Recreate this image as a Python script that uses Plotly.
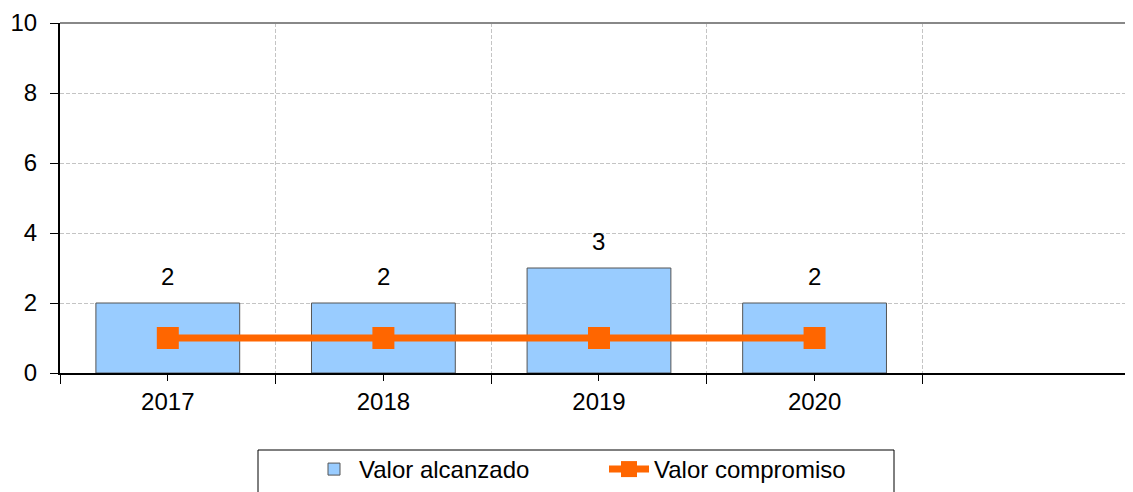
import plotly.graph_objects as go

years = ["2017", "2018", "2019", "2020"]
alcanzado = [2, 2, 3, 2]
compromiso = [1, 1, 1, 1]
n_slots = 5  # one empty category slot at the right

xpos = list(range(len(years)))

FONT = "Liberation Sans, Arial, sans-serif"
FS = 24

# page body has an 8px margin: size the figure so it fills the 1133x492 window
W, H = 1125, 484
ML, MT, MB = 52, 15, 119
PW, PH = W - ML, H - MT - MB

fig = go.Figure()
fig.add_trace(go.Bar(
    x=xpos, y=alcanzado, name="Valor alcanzado", width=0.667,
    marker=dict(color="#99CCFF", line=dict(color="#555555", width=1)),
))
fig.add_trace(go.Scatter(
    x=xpos, y=compromiso, name="Valor compromiso", mode="lines+markers",
    line=dict(color="#FF6600", width=7),
    marker=dict(symbol="square", size=22, color="#FF6600"),
))
for x, v in zip(xpos, alcanzado):
    fig.add_annotation(x=x, y=v, text=str(v), showarrow=False, yanchor="bottom",
                       yshift=11, font=dict(size=FS, color="#000000", family=FONT))

# top frame line
fig.add_shape(type="line", xref="paper", yref="paper", x0=0, x1=1, y0=1, y1=1,
              line=dict(color="#888888", width=2))
# legend frame
lx0, lx1, ly0 = 258 - 8, 894 - 8, 450 - 8
fig.add_shape(type="rect", xref="paper", yref="paper",
              x0=(lx0 - ML) / PW, x1=(lx1 - ML) / PW,
              y0=-(ly0 - MT - PH) / PH, y1=-(H + 20 - MT - PH) / PH,
              line=dict(color="#000000", width=1), fillcolor="rgba(0,0,0,0)")

GRID = dict(gridcolor="#C4C4C4", griddash="4px,2px", gridwidth=1)

fig.update_layout(
    width=W, height=H,
    margin=dict(l=ML, r=0, t=MT, b=MB, autoexpand=False),
    paper_bgcolor="white", plot_bgcolor="white",
    font=dict(family=FONT, size=FS, color="#000000"),
    showlegend=True,
    legend=dict(orientation="h", x=0.507, xanchor="center", y=-0.2114, yanchor="top",
                borderwidth=0, bgcolor="rgba(0,0,0,0)", font=dict(size=FS, family=FONT),
                entrywidth=240, itemwidth=40),
    xaxis=dict(
        range=[-0.5, n_slots - 0.5 - 0.023], tickmode="array", tickvals=xpos, ticktext=years,
        showgrid=False, zeroline=False, showline=True, linecolor="#000000", linewidth=2,
        ticks="outside", ticklen=6, tickcolor="#000000", tickwidth=1,
        ticklabelstandoff=0, automargin=False, tickfont=dict(size=FS),
        minor=dict(tickmode="array", tickvals=[i - 0.5 for i in range(n_slots + 1)],
                   ticks="outside", ticklen=9, tickcolor="#000000", tickwidth=1,
                   showgrid=True, **GRID),
    ),
    yaxis=dict(
        range=[0, 10], dtick=2, showgrid=True, **GRID,
        zeroline=False, showline=True, linecolor="#000000", linewidth=2,
        ticks="outside", ticklen=8, tickcolor="#000000", ticklabelstandoff=8,
        automargin=False, tickfont=dict(size=FS),
    ),
)

fig.write_html("out.html")
